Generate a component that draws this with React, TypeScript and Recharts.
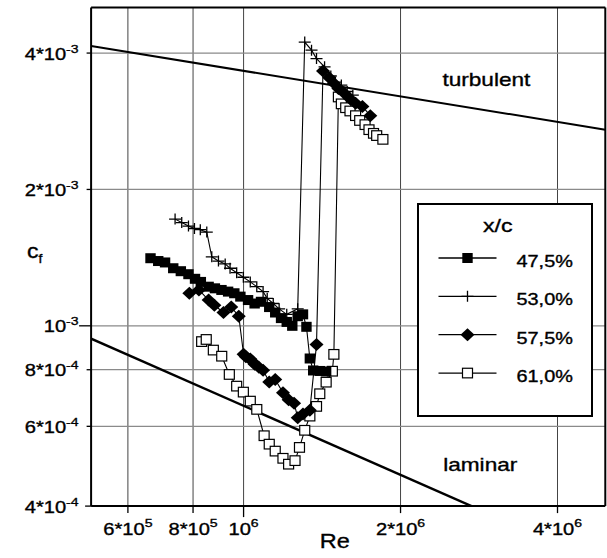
import React from "react";
import { ScatterChart, Scatter, XAxis, YAxis, ReferenceLine, Legend } from "recharts";

// tick values and their printed labels (mantissa, exponent)
const xTicks = [6e5, 8e5, 1e6, 2e6, 4e6];
const xTickLabels = [["6*10", "5"], ["8*10", "5"], ["10", "6"], ["2*10", "6"], ["4*10", "6"]];
const yTicks = [4e-4, 6e-4, 8e-4, 1e-3, 2e-3, 4e-3];
const yTickLabels = [["4*10", "-4"], ["6*10", "-4"], ["8*10", "-4"], ["10", "-3"], ["2*10", "-3"], ["4*10", "-3"]];

// x/c = 47,5 %
const re475 = [6.63e5, 6.86e5, 7.07e5, 7.33e5, 7.58e5, 7.84e5, 8.07e5, 8.28e5, 8.57e5, 8.81e5, 9.07e5, 9.34e5, 9.6e5, 9.86e5, 1.02e6, 1.05e6, 1.08e6, 1.12e6, 1.15e6, 1.18e6, 1.21e6, 1.24e6, 1.27e6, 1.3e6, 1.32e6, 1.34e6, 1.36e6, 1.4e6, 1.44e6];
const cf475 = [1.41e-3, 1.39e-3, 1.38e-3, 1.34e-3, 1.32e-3, 1.3e-3, 1.27e-3, 1.25e-3, 1.22e-3, 1.21e-3, 1.2e-3, 1.19e-3, 1.18e-3, 1.16e-3, 1.14e-3, 1.12e-3, 1.13e-3, 1.1e-3, 1.07e-3, 1.04e-3, 1.02e-3, 1.0e-3, 1.05e-3, 1.06e-3, 9.95e-4, 8.47e-4, 7.97e-4, 7.95e-4, 7.93e-4];

// x/c = 53,0 %
const re530 = [7.39e5, 7.61e5, 7.84e5, 8.05e5, 8.26e5, 8.5e5, 8.69e5, 8.95e5, 9.22e5, 9.42e5, 9.7e5, 9.99e5, 1.03e6, 1.06e6, 1.09e6, 1.11e6, 1.14e6, 1.17e6, 1.21e6, 1.27e6, 1.31e6, 1.35e6, 1.38e6, 1.43e6, 1.47e6, 1.5e6, 1.54e6, 1.58e6, 1.62e6];
const cf530 = [1.72e-3, 1.69e-3, 1.66e-3, 1.64e-3, 1.63e-3, 1.61e-3, 1.42e-3, 1.39e-3, 1.37e-3, 1.34e-3, 1.31e-3, 1.28e-3, 1.25e-3, 1.22e-3, 1.19e-3, 1.15e-3, 1.12e-3, 1.09e-3, 1.06e-3, 1.09e-3, 4.23e-3, 4.06e-3, 3.89e-3, 3.73e-3, 3.56e-3, 3.45e-3, 3.4e-3, 3.29e-3, 3.23e-3];

// x/c = 57,5 %
const re575 = [7.87e5, 8.21e5, 8.57e5, 8.79e5, 9.15e5, 9.47e5, 9.79e5, 1.0e6, 1.01e6, 1.03e6, 1.04e6, 1.05e6, 1.07e6, 1.09e6, 1.12e6, 1.15e6, 1.19e6, 1.22e6, 1.25e6, 1.27e6, 1.3e6, 1.34e6, 1.38e6, 1.42e6, 1.46e6, 1.49e6, 1.52e6, 1.56e6, 1.6e6, 1.64e6, 1.69e6, 1.75e6];
const cf575 = [1.18e-3, 1.2e-3, 1.14e-3, 1.11e-3, 1.07e-3, 1.1e-3, 1.05e-3, 8.65e-4, 8.55e-4, 8.45e-4, 8.34e-4, 8.23e-4, 8.1e-4, 7.98e-4, 7.52e-4, 7.61e-4, 7.12e-4, 6.87e-4, 6.75e-4, 6.27e-4, 6.39e-4, 6.51e-4, 9.09e-4, 3.65e-3, 3.53e-3, 3.43e-3, 3.34e-3, 3.26e-3, 3.17e-3, 3.1e-3, 3.05e-3, 2.91e-3];

// x/c = 61,0 %
const re610 = [8.31e5, 8.48e5, 8.75e5, 9.08e5, 9.39e5, 9.7e5, 9.99e5, 1.03e6, 1.06e6, 1.095e6, 1.12e6, 1.15e6, 1.19e6, 1.22e6, 1.255e6, 1.28e6, 1.31e6, 1.34e6, 1.38e6, 1.4e6, 1.44e6, 1.48e6, 1.49e6, 1.52e6, 1.54e6, 1.57e6, 1.6e6, 1.64e6, 1.67e6, 1.71e6, 1.74e6, 1.775e6, 1.8e6, 1.85e6];
const cf610 = [9.23e-4, 9.33e-4, 8.84e-4, 8.57e-4, 7.81e-4, 7.36e-4, 7.14e-4, 6.82e-4, 6.54e-4, 5.72e-4, 5.48e-4, 5.29e-4, 5.1e-4, 4.95e-4, 5.04e-4, 5.39e-4, 5.88e-4, 6.32e-4, 6.64e-4, 7.08e-4, 7.51e-4, 7.94e-4, 8.65e-4, 3.2e-3, 3.09e-3, 3.03e-3, 2.98e-3, 2.91e-3, 2.84e-3, 2.78e-3, 2.71e-3, 2.66e-3, 2.63e-3, 2.58e-3];

// laminar / turbulent flat plate lines (end points)
const turbRe = [5.1e5, 4.94e6];
const turbCf = [4.145e-3, 2.71e-3];
const lamRe = [5.1e5, 2.736e6];
const lamCf = [9.37e-4, 4.0e-4];

const X_DOMAIN = [5.1e5, 4.94e6];
const Y_DOMAIN = [4e-4, 5.04e-3];

const FONT = '"Liberation Sans", Arial, Helvetica, sans-serif';
const SX = 1.22;

const zip = (xs: number[], ys: number[]) => xs.map((x, i) => ({ x, y: ys[i] }));

const findTick = (ticks: number[], v: number) => ticks.findIndex((t) => Math.abs(t - v) / t < 1e-6);

// scanned figure is stretched horizontally, so text is widened a bit
function SText({ x, y, size, anchor = "start", sx = SX, children }: any) {
  return (
    <text
      transform={`translate(${x},${y}) scale(${sx},1)`}
      fontSize={size}
      textAnchor={anchor}
      fontFamily={FONT}
      fill="#000"
      stroke="#000"
      strokeWidth={0.35}
    >
      {children}
    </text>
  );
}

function XTick(props: any) {
  const { x, y, payload } = props;
  const i = findTick(xTicks, payload.value);
  if (i < 0) return null;
  const [m, e] = xTickLabels[i];
  const len = payload.value === 1e6 ? 11 : 7;
  return (
    <g>
      <line x1={x} x2={x} y1={y} y2={y + len} stroke="#000" strokeWidth={1.3} />
      <SText x={x} y={y + 29} size={16.5} anchor="middle">
        {m}
        <tspan dy={-8} fontSize={11.5}>{e}</tspan>
      </SText>
    </g>
  );
}

function YTick(props: any) {
  const { x, y, payload } = props;
  const i = findTick(yTicks, payload.value);
  if (i < 0) return null;
  const [m, e] = yTickLabels[i];
  const len = payload.value === 1e-3 ? 12 : payload.value === 4e-4 ? 6 : 4.5;
  return (
    <g>
      <line x1={x - len} x2={x} y1={y} y2={y} stroke="#000" strokeWidth={1.3} />
      <SText x={x - 12.5} y={y + 6.5} size={16.5} anchor="end">
        {m}
        <tspan dy={-7} fontSize={11.5}>{e}</tspan>
      </SText>
    </g>
  );
}

const filledSquare = (p: any) => <rect x={p.cx - 5.2} y={p.cy - 5} width={10.4} height={10} fill="#000" />;
const openSquare = (p: any) => (
  <rect x={p.cx - 5} y={p.cy - 4.8} width={10} height={9.6} fill="#fff" stroke="#000" strokeWidth={1.2} />
);
const diamond = (p: any) => (
  <path d={`M${p.cx},${p.cy - 6.5}L${p.cx + 7},${p.cy}L${p.cx},${p.cy + 6.5}L${p.cx - 7},${p.cy}Z`} fill="#000" />
);
const cross = (p: any) => (
  <path d={`M${p.cx - 6},${p.cy}H${p.cx + 6}M${p.cx},${p.cy - 5.5}V${p.cy + 5.5}`} stroke="#000" strokeWidth={1.3} />
);
const noDot = () => <g />;

const legendRows = [
  { label: "47,5%", shape: filledSquare },
  { label: "53,0%", shape: cross },
  { label: "57,5%", shape: diamond },
  { label: "61,0%", shape: openSquare },
];

function LegendBox() {
  return (
    <svg width={176} height={214} style={{ display: "block" }}>
      <rect x={1} y={1} width={174} height={212} fill="#fff" stroke="#000" strokeWidth={2} />
      <SText x={66} y={29} size={19}>x/c</SText>
      {legendRows.map((r, i) => {
        const cy = 55 + i * 38.35;
        return (
          <g key={r.label}>
            <line x1={21.5} x2={79.5} y1={cy} y2={cy} stroke="#000" strokeWidth={1.3} />
            {r.shape({ cx: 50.5, cy })}
            <SText x={99.5} y={cy + 9} size={16.3}>{r.label}</SText>
          </g>
        );
      })}
    </svg>
  );
}

export default function App() {
  return (
    <div style={{ position: "absolute", left: 0, top: 0, width: 607, height: 558, background: "#fff" }}>
      <ScatterChart width={607} height={558} margin={{ top: 7.6, right: 1.7, bottom: 0, left: 0 }}>
        <XAxis
          type="number"
          dataKey="x"
          scale="log"
          domain={X_DOMAIN}
          ticks={xTicks}
          interval={0}
          allowDataOverflow
          height={51.9}
          tickSize={0}
          tickMargin={0}
          tickLine={false}
          axisLine={{ stroke: "#000", strokeWidth: 2 }}
          tick={(p: any) => <XTick {...p} />}
        />
        <YAxis
          type="number"
          dataKey="y"
          scale="log"
          domain={Y_DOMAIN}
          ticks={yTicks}
          interval={0}
          allowDataOverflow
          width={91.1}
          tickSize={0}
          tickMargin={0}
          tickLine={false}
          axisLine={{ stroke: "#000", strokeWidth: 2 }}
          tick={(p: any) => <YTick {...p} />}
        />
        {xTicks.map((v) => (
          <ReferenceLine key={"gx" + v} x={v} stroke="#444" strokeWidth={1} />
        ))}
        {yTicks.slice(1).map((v) => (
          <ReferenceLine key={"gy" + v} y={v} stroke="#8a8a8a" strokeWidth={1.3} />
        ))}
        <ReferenceLine x={X_DOMAIN[1]} stroke="#000" strokeWidth={2} />
        <ReferenceLine y={Y_DOMAIN[1]} stroke="#000" strokeWidth={2} />

        <Scatter data={zip(turbRe, turbCf)} line={{ stroke: "#000", strokeWidth: 2 }} lineType="joint" shape={noDot} isAnimationActive={false} />
        <Scatter data={zip(lamRe, lamCf)} line={{ stroke: "#000", strokeWidth: 2.4 }} lineType="joint" shape={noDot} isAnimationActive={false} />

        <Scatter data={zip(re610, cf610)} line={{ stroke: "#000", strokeWidth: 1.1 }} lineType="joint" shape={openSquare} isAnimationActive={false} />
        <Scatter data={zip(re475, cf475)} line={{ stroke: "#000", strokeWidth: 1.1 }} lineType="joint" shape={filledSquare} isAnimationActive={false} />
        <Scatter data={zip(re575, cf575)} line={{ stroke: "#000", strokeWidth: 1.1 }} lineType="joint" shape={diamond} isAnimationActive={false} />
        <Scatter data={zip(re530, cf530)} line={{ stroke: "#000", strokeWidth: 1.1 }} lineType="joint" shape={cross} isAnimationActive={false} />

        <Legend
          layout="vertical"
          align="center"
          verticalAlign="middle"
          content={() => <LegendBox />}
          wrapperStyle={{ position: "absolute", left: 417, top: 202.5, width: 176, height: 214 }}
        />

        <SText x={442.4} y={86.3} size={19} sx={1.19}>turbulent</SText>
        <SText x={443.2} y={470.5} size={19} sx={1.19}>laminar</SText>
        <SText x={334.7} y={548.3} size={21} sx={1.12} anchor="middle">Re</SText>
        <SText x={27} y={258} size={20} sx={1.15}>
          c<tspan dy={5} fontSize={12}>f</tspan>
        </SText>
      </ScatterChart>
    </div>
  );
}
